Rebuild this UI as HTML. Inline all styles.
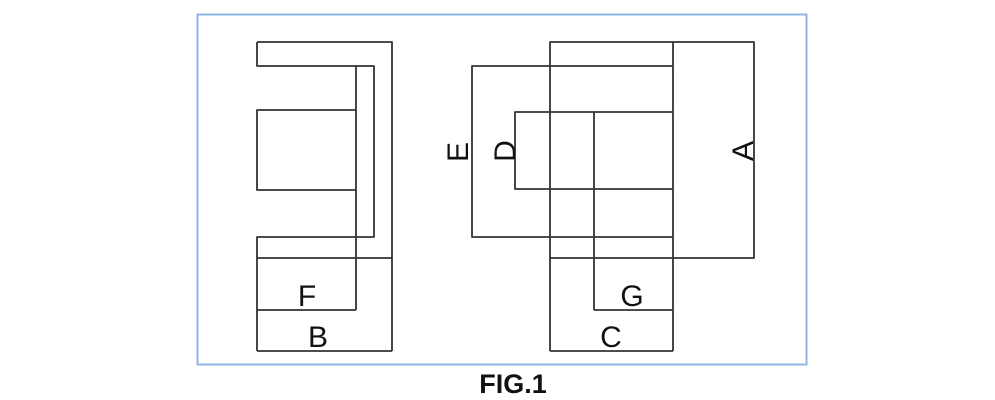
<!DOCTYPE html>
<html><head><style>
html,body{margin:0;padding:0;background:#fff;width:995px;height:400px;overflow:hidden}
</style></head><body>
<svg width="995" height="400" xmlns="http://www.w3.org/2000/svg">
<rect x="197.5" y="14.5" width="609" height="350" fill="none" stroke="#8fb4e6" stroke-width="2"/>
<g fill="none" stroke="#333" stroke-width="1.8" stroke-linejoin="round">
<!-- left figure -->
<path d="M257 42 H392 V351"/>
<path d="M257 42 V66 H374 V237 H257 V351"/>
<line x1="257" y1="258" x2="392" y2="258"/>
<line x1="356" y1="66" x2="356" y2="310"/>
<path d="M356 110 H257 V190 H356"/>
<line x1="257" y1="310" x2="356" y2="310"/>
<line x1="257" y1="351" x2="392" y2="351"/>
<!-- right figure -->
<path d="M550 351 V42 H754 V258 H550"/>
<line x1="673" y1="42" x2="673" y2="351"/>
<path d="M673 66 H472 V237 H673"/>
<path d="M673 112 H515 V189 H673"/>
<line x1="594" y1="112" x2="594" y2="310"/>
<line x1="594" y1="310" x2="673" y2="310"/>
<line x1="550" y1="351" x2="673" y2="351"/>
</g>
<g font-family="Liberation Sans, sans-serif" font-size="30" fill="#111" text-anchor="middle">
<text x="307" y="306">F</text>
<text x="318" y="347">B</text>
<text x="632" y="306">G</text>
<text x="611" y="347">C</text>
<text transform="translate(468,152) rotate(-90)">E</text>
<text transform="translate(515,151) rotate(-90)">D</text>
<text transform="translate(753,151) rotate(-90)">A</text>
</g>
<text x="513" y="393" text-anchor="middle" font-family="Liberation Sans Narrow, Liberation Sans, sans-serif" font-weight="bold" font-size="27" fill="#111">FIG.1</text>
</svg>
</body></html>
